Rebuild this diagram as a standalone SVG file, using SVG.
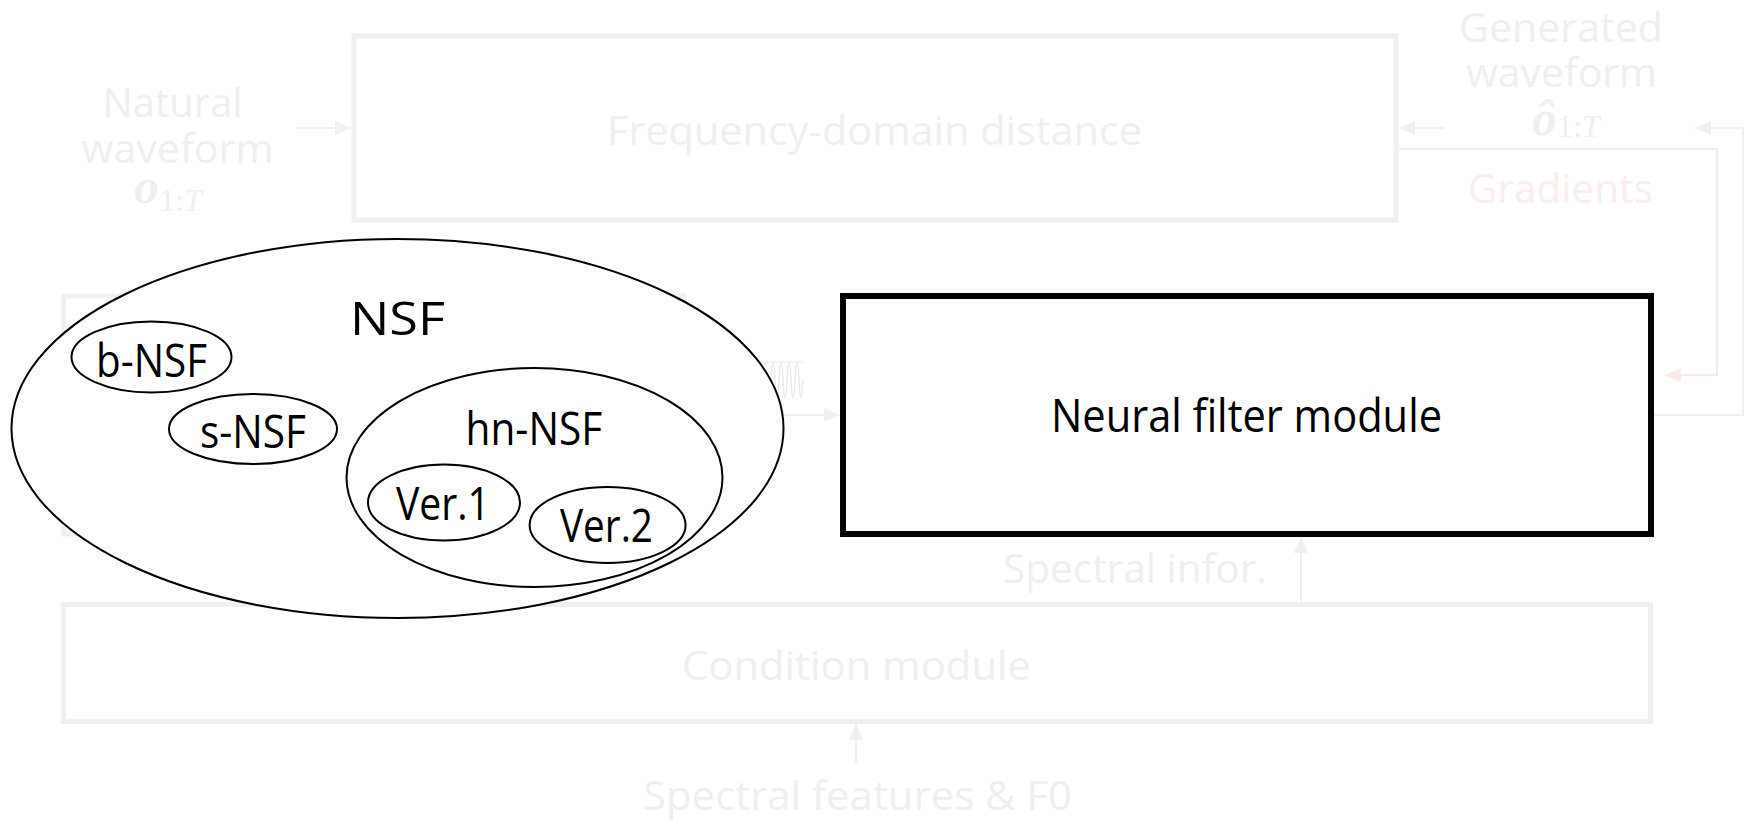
<svg xmlns="http://www.w3.org/2000/svg" width="1748" height="822" viewBox="0 0 1748 822">
<defs>
<style>
.faint{fill:none;stroke:#f0f0f0;stroke-width:5}
.ftxt{fill:#efefef;font-family:"Open Sans","Noto Sans",sans-serif;font-size:40px}
.ptxt{fill:#fbeded;font-family:"Open Sans","Noto Sans",sans-serif;font-size:40px}
.btxt{fill:#000;font-family:"Open Sans","Noto Sans",sans-serif;font-size:45px}
.math{fill:#efefef;font-family:"Liberation Serif",serif}
.conn{fill:none;stroke:#f0f0f0;stroke-width:2}
.pconn{fill:none;stroke:#fbe8e8;stroke-width:2}
.ell{fill:#fff;stroke:#000;stroke-width:2}
</style>
<marker id="ah" markerWidth="16" markerHeight="14" refX="16" refY="7" orient="auto" markerUnits="userSpaceOnUse">
<path d="M0,0 L16,7 L0,14 z" fill="#f0f0f0"/>
</marker>
<marker id="ahp" markerWidth="16" markerHeight="14" refX="16" refY="7" orient="auto" markerUnits="userSpaceOnUse">
<path d="M0,0 L16,7 L0,14 z" fill="#fbe8e8"/>
</marker>
</defs>
<rect width="1748" height="822" fill="#fff"/>

<g id="connectors">
<line class="conn" x1="296" y1="128" x2="351" y2="128" marker-end="url(#ah)"/>
<line class="conn" x1="1446" y1="128" x2="1399" y2="128" marker-end="url(#ah)"/>
<polyline class="pconn" points="1399,149 1717,149 1717,375 1665,375" marker-end="url(#ahp)"/>
<polyline class="conn" points="1653,415 1743,415 1743,128 1695,128" marker-end="url(#ah)"/>
<line class="conn" x1="687" y1="415" x2="840" y2="415" marker-end="url(#ah)"/>
<line class="conn" x1="1301" y1="602" x2="1301" y2="537" marker-end="url(#ah)"/>
<line class="conn" x1="856" y1="763" x2="856" y2="724" marker-end="url(#ah)"/>
</g>

<g id="natural-waveform">
<text class="ftxt" x="102.6" y="117" textLength="140" lengthAdjust="spacingAndGlyphs">Natural</text>
<text class="ftxt" x="81.5" y="163" textLength="192" lengthAdjust="spacingAndGlyphs">waveform</text>
<text class="math" x="134" y="203"><tspan font-size="50" font-style="italic" font-weight="bold">o</tspan><tspan font-size="32" dy="8">1:</tspan><tspan font-size="32" font-style="italic">T</tspan></text>
</g>

<g id="frequency-domain-distance">
<rect class="faint" x="354" y="36" width="1042" height="184"/>
<text class="ftxt" x="607" y="145" textLength="535" lengthAdjust="spacingAndGlyphs">Frequency-domain distance</text>
</g>

<g id="generated-waveform">
<text class="ftxt" x="1459" y="42" textLength="204" lengthAdjust="spacingAndGlyphs">Generated</text>
<text class="ftxt" x="1466" y="87" textLength="191" lengthAdjust="spacingAndGlyphs">waveform</text>
<text class="math" x="1532" y="135"><tspan font-size="50" font-style="italic" font-weight="bold">ô</tspan><tspan font-size="32" dy="2">1:</tspan><tspan font-size="32" font-style="italic">T</tspan></text>
</g>

<g id="gradients">
<text class="ptxt" x="1468" y="203" textLength="185" lengthAdjust="spacingAndGlyphs">Gradients</text>
</g>

<g id="source-module">
<rect class="faint" x="63.5" y="296" width="621" height="238"/>
<line x1="720" y1="362" x2="803" y2="362" stroke="#ececec" stroke-width="1"/>
<path d="M761,398 C763,398 763,362 765,362 C767,362 767,398 769,398 C771,398 771,362 773,362 C775,362 775,398 777,398 C779,398 779,362 781,362 C783,362 783,398 785,398 C787,398 787,362 789,362 C791,362 791,398 793,398 C795,398 795,362 797,362 C799,362 799,398 801,398 C802,398 802,385 803,380" fill="none" stroke="#e8e8e8" stroke-width="1.3"/>
</g>

<g id="condition-module">
<rect class="faint" x="63.5" y="604.5" width="1587" height="117"/>
<text class="ftxt" x="682" y="680" textLength="349" lengthAdjust="spacingAndGlyphs">Condition module</text>
</g>

<g id="spectral-infor">
<text class="ftxt" x="1003" y="583" textLength="264" lengthAdjust="spacingAndGlyphs">Spectral infor.</text>
</g>

<g id="spectral-features">
<text class="ftxt" x="643" y="810" textLength="429" lengthAdjust="spacingAndGlyphs">Spectral features &amp; F0</text>
</g>

<g id="nsf">
<ellipse class="ell" cx="397.5" cy="428.5" rx="386" ry="189.5" stroke-width="2.5"/>
<text class="btxt" x="350" y="335" font-size="62" textLength="95" lengthAdjust="spacingAndGlyphs">NSF</text>
</g>

<g id="b-nsf">
<ellipse class="ell" cx="151.5" cy="357" rx="80" ry="35.5"/>
<text class="btxt" x="96" y="377" textLength="111" lengthAdjust="spacingAndGlyphs">b-NSF</text>
</g>

<g id="s-nsf">
<ellipse class="ell" cx="253" cy="429" rx="84" ry="35"/>
<text class="btxt" x="200" y="448" textLength="106" lengthAdjust="spacingAndGlyphs">s-NSF</text>
</g>

<g id="hn-nsf">
<ellipse class="ell" cx="534.5" cy="477.5" rx="188" ry="109.5"/>
<text class="btxt" x="465.6" y="445" textLength="136.5" lengthAdjust="spacingAndGlyphs">hn-NSF</text>
</g>

<g id="ver1">
<ellipse class="ell" cx="444" cy="502.5" rx="76" ry="38"/>
<text class="btxt" x="396" y="520" textLength="94" lengthAdjust="spacingAndGlyphs">Ver.1</text>
</g>

<g id="ver2">
<ellipse class="ell" cx="607.6" cy="525" rx="78" ry="38"/>
<text class="btxt" x="560" y="542" textLength="93" lengthAdjust="spacingAndGlyphs">Ver.2</text>
</g>

<g id="neural-filter-module">
<rect x="843" y="296" width="808" height="238" fill="#fff" stroke="#000" stroke-width="6"/>
<text class="btxt" x="1051" y="432" textLength="391" lengthAdjust="spacingAndGlyphs">Neural filter module</text>
</g>
</svg>
